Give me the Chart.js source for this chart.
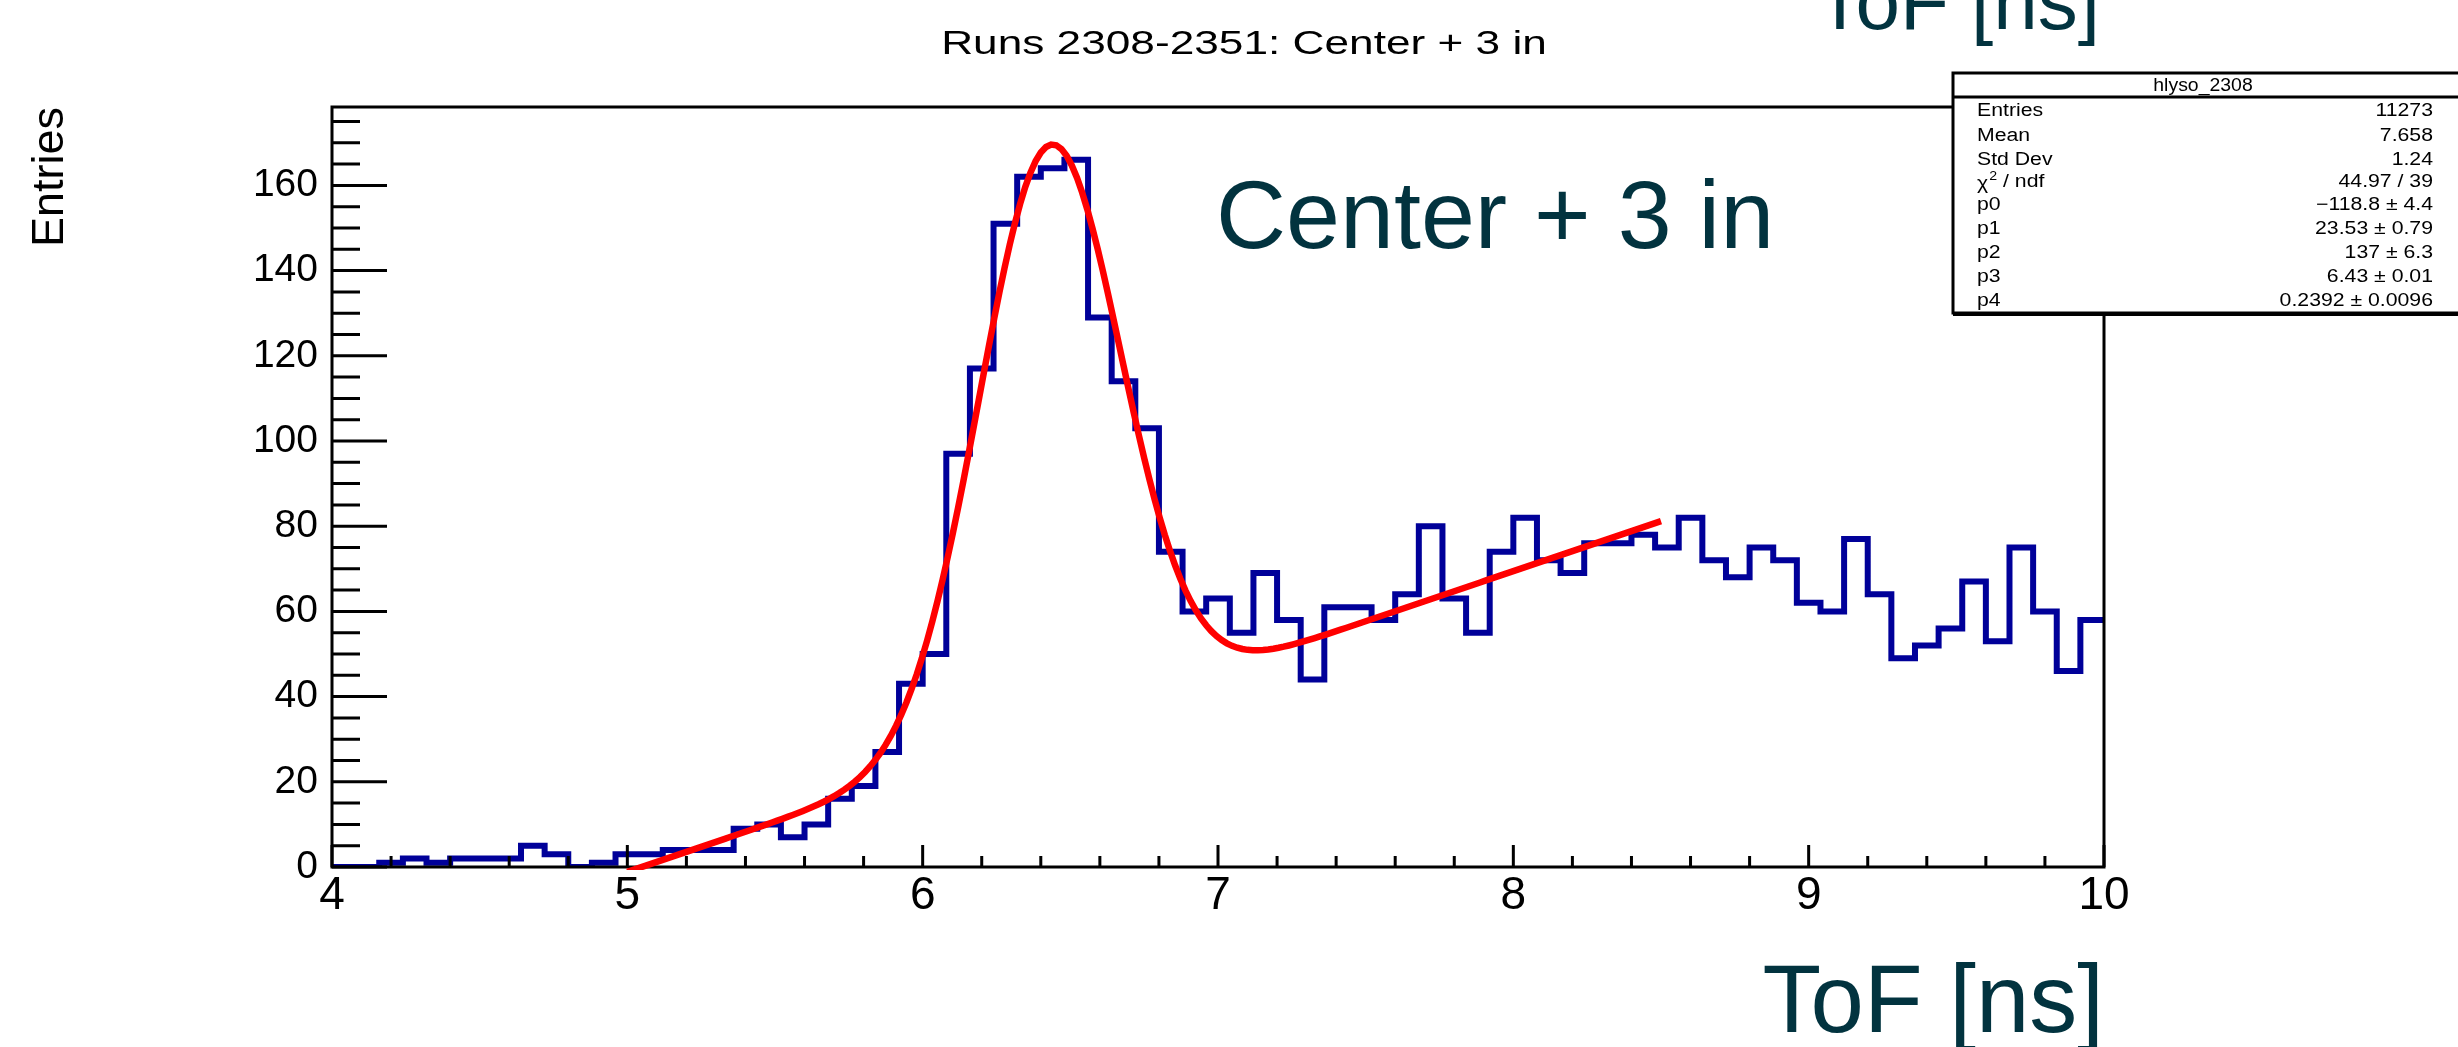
<!DOCTYPE html>
<html lang="en">
<head>
<meta charset="UTF-8">
<title>ToF - Center + 3 in</title>
<script src="https://cdn.jsdelivr.net/npm/chart.js"></script>
<style>
  body { margin: 0; background: #fff; }
  #wrap { width: 2458px; height: 1047px; }
</style>
</head>
<body>
<div id="wrap"><canvas id="tofChart" width="2458" height="1047"></canvas></div>
<script>
// hlyso_2308: 75 bins of 0.08 ns from 4 to 10 ns
var binLow = 4.0;
var binWidth = 0.08;
var counts = [0, 0, 1, 2, 1, 2, 2, 2, 5, 3,
              0, 1, 3, 3, 4, 4, 4, 9, 10, 7,
              10, 16, 19, 27, 43, 50, 97, 117, 151, 162,
              164, 166, 129, 114, 103, 74, 60, 63, 55, 69,
              58, 44, 61, 61, 58, 64, 80, 63, 55, 74,
              82, 72, 69, 76, 76, 78, 75, 82, 72, 68,
              75, 72, 62, 60, 77, 64, 49, 52, 56, 67,
              53, 75, 60, 46, 58];

// fit: pol1 + gaus, p0..p4 from the stats box
var fitPars = [-118.8, 23.53, 137, 6.43, 0.2392];
var fitRange = [5.0, 8.5];

var statLabels = ["Entries", "Mean", "Std Dev", "chi2", "p0", "p1", "p2", "p3", "p4"];
var statValues = ["11273", "7.658", "1.24", "44.97 / 39", "\u2212118.8 \u00b1 4.4", "23.53 \u00b1 0.79",
                  "137 \u00b1 6.3", "6.43 \u00b1 0.01", "0.2392 \u00b1 0.0096"];

var FONT = '"Liberation Sans", Arial, Helvetica, sans-serif';
var TEAL = '#02333f';

var histPts = counts.map(function (c, i) {
    return { x: binLow + i * binWidth, y: c };
});
histPts.push({ x: binLow + counts.length * binWidth, y: counts[counts.length - 1] });

function fitFunc(x) {
    var p = fitPars;
    var d = (x - p[3]) / p[4];
    return p[0] + p[1] * x + p[2] * Math.exp(-0.5 * d * d);
}
var fitPts = [];
for (var i = 0; i <= 200; i++) {
    var xv = fitRange[0] + (fitRange[1] - fitRange[0]) * i / 200;
    fitPts.push({ x: xv, y: fitFunc(xv) });
}

// text with optional horizontal stretch
function stretchText(ctx, txt, x, y, sx, align) {
    ctx.save();
    ctx.translate(x, y);
    ctx.scale(sx, 1);
    ctx.textAlign = align || 'left';
    ctx.fillText(txt, 0, 0);
    ctx.restore();
}

// frame + inward ticks, drawn between histogram and fit curve
function drawAxes(chart) {
    var ctx = chart.ctx, a = chart.chartArea;
    var xs = chart.scales.x, ys = chart.scales.y;
    ctx.save();
    ctx.strokeStyle = '#000';
    ctx.lineWidth = 3;
    ctx.strokeRect(a.left, a.top, a.right - a.left, a.bottom - a.top);
    ctx.beginPath();
    for (var i = 0; i <= 30; i++) {
        var px = xs.getPixelForValue(4 + i * 0.2);
        var len = (i % 5 === 0) ? 22 : 11;
        ctx.moveTo(px, a.bottom);
        ctx.lineTo(px, a.bottom - len);
    }
    for (var j = 0; j <= 35; j++) {
        var py = ys.getPixelForValue(j * 5);
        var l2 = (j % 4 === 0) ? 55 : 28;
        ctx.moveTo(a.left, py);
        ctx.lineTo(a.left + l2, py);
    }
    ctx.stroke();
    ctx.restore();
}

function drawStats(ctx) {
    var bx = 1953, by = 73, bw = 520, bh = 240;
    var sx = 1.18;
    ctx.save();
    ctx.fillStyle = '#fff';
    ctx.fillRect(bx, by, bw, bh);
    ctx.strokeStyle = '#000';
    ctx.lineWidth = 3;
    ctx.strokeRect(bx, by, bw, bh);
    ctx.lineWidth = 4;
    ctx.beginPath();
    ctx.moveTo(bx, by + bh + 1);
    ctx.lineTo(bx + bw, by + bh + 1);
    ctx.stroke();
    ctx.lineWidth = 3;
    ctx.beginPath();
    ctx.moveTo(bx, 97);
    ctx.lineTo(bx + bw, 97);
    ctx.stroke();

    ctx.fillStyle = '#000';
    ctx.font = '18px ' + FONT;
    ctx.textBaseline = 'middle';
    stretchText(ctx, 'hlyso_2308', 2203, 86, 1.08, 'center');

    var rowY = [111, 136, 160, 182, 205, 229, 253, 277, 301];
    for (var r = 0; r < statLabels.length; r++) {
        if (statLabels[r] === 'chi2') {
            stretchText(ctx, '\u03c7', 1977, rowY[r] + 2, sx, 'left');
            var w = ctx.measureText('\u03c7').width * sx;
            ctx.font = '12px ' + FONT;
            stretchText(ctx, '2', 1977 + w + 1, rowY[r] - 5, sx, 'left');
            ctx.font = '18px ' + FONT;
            stretchText(ctx, ' / ndf', 1977 + w + 9, rowY[r], sx, 'left');
        } else {
            stretchText(ctx, statLabels[r], 1977, rowY[r], sx, 'left');
        }
        stretchText(ctx, statValues[r], 2433, rowY[r], sx, 'right');
    }
    ctx.restore();
}

var rootPainter = {
    id: 'rootPainter',
    beforeDatasetDraw: function (chart, args) {
        if (args.index === 1) drawAxes(chart);
    },
    afterDraw: function (chart) {
        var ctx = chart.ctx;
        ctx.save();
        ctx.textBaseline = 'alphabetic';
        // main title
        ctx.fillStyle = '#000';
        ctx.font = '34px ' + FONT;
        stretchText(ctx, 'Runs 2308-2351: Center + 3 in', 1244, 54, 1.3, 'center');
        // pave label
        ctx.fillStyle = TEAL;
        ctx.font = '97px ' + FONT;
        stretchText(ctx, 'Center + 3 in', 1216, 248, 1.0, 'left');
        // axis title repeated at the top edge
        ctx.font = '80px ' + FONT;
        stretchText(ctx, 'ToF [ns]', 2100, 29, 1.0, 'right');
        ctx.restore();
        drawStats(ctx);
    }
};

var ctx = document.getElementById('tofChart');
var tofChart = new Chart(ctx, {
    type: 'line',
    data: {
        datasets: [
            {
                label: 'hlyso_2308',
                data: histPts,
                stepped: 'before',
                borderColor: '#000099',
                borderWidth: 6,
                pointRadius: 0,
                fill: false,
                order: 1
            },
            {
                label: 'fit',
                data: fitPts,
                borderColor: '#ff0000',
                borderWidth: 6.5,
                pointRadius: 0,
                tension: 0,
                fill: false,
                clip: 3,
                order: 0
            }
        ]
    },
    options: {
        responsive: false,
        animation: false,
        devicePixelRatio: 1,
        layout: { padding: { top: 107, right: 354, left: 0, bottom: 0 } },
        plugins: {
            legend: { display: false },
            tooltip: { enabled: false }
        },
        scales: {
            x: {
                type: 'linear',
                min: 4,
                max: 10,
                afterFit: function (s) { s.height = 180; },
                grid: { display: false, drawTicks: false },
                border: { display: false },
                ticks: {
                    stepSize: 1,
                    padding: 6,
                    color: '#000',
                    maxRotation: 0,
                    autoSkip: false,
                    font: { family: FONT, size: 46, lineHeight: 1 }
                },
                title: {
                    display: true,
                    text: 'ToF [ns]',
                    align: 'end',
                    color: TEAL,
                    font: { family: FONT, size: 96, lineHeight: 0.85 },
                    padding: { top: 0, bottom: 1 }
                }
            },
            y: {
                type: 'linear',
                min: 0,
                max: 178.4,
                afterFit: function (s) { s.width = 332; },
                grid: { display: false, drawTicks: false },
                border: { display: false },
                ticks: {
                    stepSize: 20,
                    includeBounds: false,
                    padding: 14,
                    color: '#000',
                    font: { family: FONT, size: 39, lineHeight: 1 }
                },
                title: {
                    display: true,
                    text: 'Entries',
                    align: 'end',
                    color: '#000',
                    font: { family: FONT, size: 45, lineHeight: 1 },
                    padding: { top: 28, bottom: 0 }
                }
            }
        }
    },
    plugins: [rootPainter]
});
</script>
</body>
</html>
